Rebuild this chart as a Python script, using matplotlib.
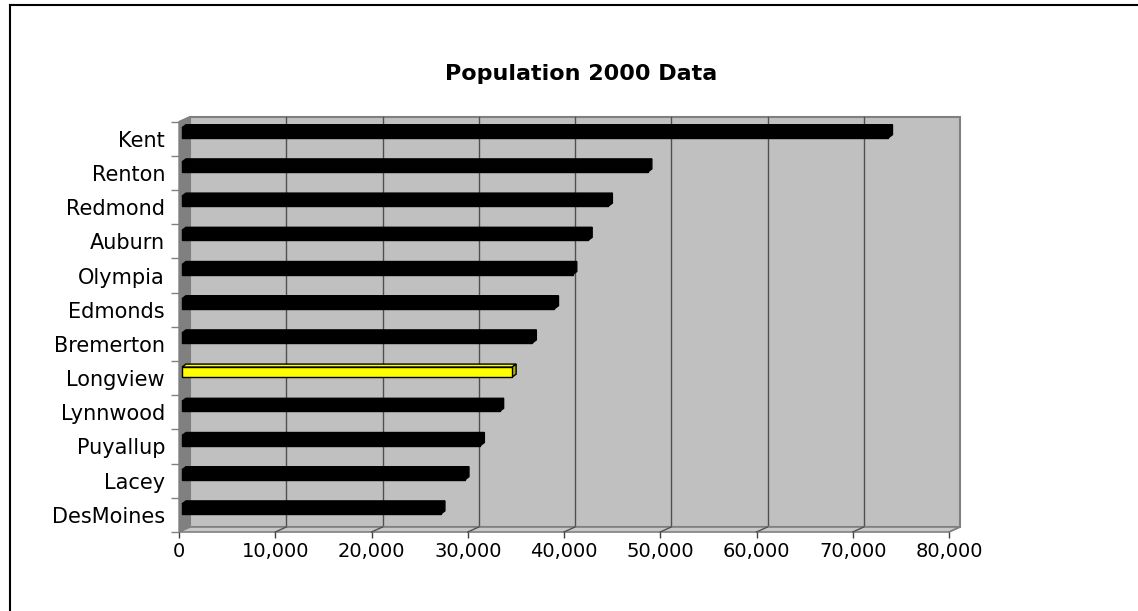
import matplotlib
matplotlib.use("Agg")
import matplotlib.pyplot as plt
from matplotlib.patches import Polygon
from matplotlib.lines import Line2D
from matplotlib.ticker import FuncFormatter

cities = ["DesMoines", "Lacey", "Puyallup", "Lynnwood", "Longview", "Bremerton",
          "Edmonds", "Olympia", "Auburn", "Redmond", "Renton", "Kent"]
population = [26900, 29400, 31000, 33000, 34300, 36400,
              38700, 40600, 42200, 44300, 48400, 73400]
highlight = "Longview"
x_ticks = list(range(0, 80001, 10000))

W, H = 1138, 611
fig = plt.figure(figsize=(W / 100, H / 100), dpi=100)
plt.rcParams["font.family"] = ["DejaVu Sans"]

# front floor edge of the 3d plot area
ax_left, ax_bottom, ax_w, ax_h = 179, 532, 770, 410.4
ax = fig.add_axes([ax_left / W, (H - ax_bottom) / H, ax_w / W, ax_h / H])
ax.set_xlim(0, 80000)
ax.set_ylim(0, len(cities))
ax.patch.set_visible(False)
for s in ax.spines.values():
    s.set_visible(False)


def px(dx, dy):
    # pixel offset -> data offset
    return dx * 80000 / ax_w, dy * len(cities) / ax_h


# walls and floor
wx, wy = px(11, 5)
n = len(cities)
back = Polygon([(wx, wy), (80000 + wx, wy), (80000 + wx, n + wy), (wx, n + wy)],
               closed=True, facecolor="#c0c0c0", edgecolor="#808080", lw=1.5,
               clip_on=False, zorder=0)
side = Polygon([(0, 0), (wx, wy), (wx, n + wy), (0, n)], closed=True,
               facecolor="#808080", edgecolor="#808080", lw=1, clip_on=False, zorder=1)
floor = Polygon([(0, 0), (80000, 0), (80000 + wx, wy), (wx, wy)], closed=True,
                facecolor="#c8c8c8", edgecolor="#808080", lw=1.2, clip_on=False, zorder=1)
for p in (back, side, floor):
    ax.add_patch(p)

for t in x_ticks[1:-1]:
    ax.plot([t + wx, t + wx], [wy, n + wy], color="#505050", lw=1, zorder=0.5, clip_on=False)
    ax.plot([t, t + wx], [0, wy], color="#505050", lw=1, zorder=1.5, clip_on=False)
ax.plot([80000, 80000 + wx], [0, wy], color="#808080", lw=1, zorder=1.5, clip_on=False)

# bars
bx, by = px(3, 6)
dx, dy = px(4, 3)
front_h = px(0, 10)[1]
ys = [i + 0.5 - front_h / 2 + by for i in range(n)]
for city, v, y0 in zip(cities, population, ys):
    if city == highlight:
        fc, top_c, side_c, ec = "#ffff00", "#ffff00", "#b0b000", "black"
    else:
        fc = top_c = side_c = ec = "black"
    y1 = y0 + front_h
    ax.add_patch(Polygon([(bx, y1), (bx + v, y1), (bx + v + dx, y1 + dy), (bx + dx, y1 + dy)],
                         closed=True, facecolor=top_c, edgecolor=ec, lw=1, zorder=3, clip_on=False))
    ax.add_patch(Polygon([(bx + v, y0), (bx + v, y1), (bx + v + dx, y1 + dy), (bx + v + dx, y0 + dy)],
                         closed=True, facecolor=side_c, edgecolor=ec, lw=1, zorder=3, clip_on=False))
    ax.barh(y0, v, left=bx, height=front_h, align="edge", color=fc, edgecolor=ec,
            lw=1, zorder=4)

# axes ticks
ax.set_xticks(x_ticks)
ax.xaxis.set_major_formatter(FuncFormatter(lambda x, p: f"{int(x):,}"))
ax.tick_params(axis="x", direction="out", length=4.5, width=1, color="#404040",
               labelsize=14, pad=3)
ax.set_yticks(range(n + 1))
ax.set_yticklabels([])
ax.tick_params(axis="y", which="major", direction="out", length=6, width=1, color="#808080")
ax.set_yticks([i + 0.5 for i in range(n)], minor=True)
ax.set_yticklabels(cities, minor=True)
ax.tick_params(axis="y", which="minor", length=0, labelsize=15, pad=10)

fig.text(581 / W, 1 - 74 / H, "Population 2000 Data", ha="center", va="center",
         fontsize=16, fontweight="bold")

# chart border (top and left only visible)
fig.add_artist(Line2D([10 / W, 10 / W], [0, 1 - 5 / H], color="black", lw=1.5,
                      transform=fig.transFigure))
fig.add_artist(Line2D([10 / W, 1], [1 - 5 / H, 1 - 5 / H], color="black", lw=1.5,
                      transform=fig.transFigure))

fig.savefig("out.png", dpi=100, facecolor="white")
